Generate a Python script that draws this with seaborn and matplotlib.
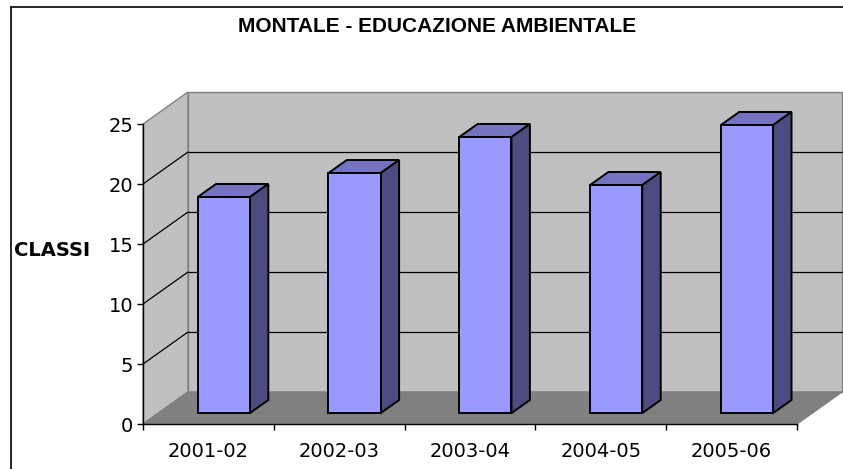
import numpy as np
import matplotlib
matplotlib.use('Agg')
import matplotlib.pyplot as plt
from matplotlib.patches import Polygon
from matplotlib.lines import Line2D
from matplotlib.transforms import IdentityTransform, ScaledTranslation
import seaborn as sns

# data
SEASONS = ['2001-02', '2002-03', '2003-04', '2004-05', '2005-06']
CLASSES = [18, 20, 23, 19, 24]
Y_TICKS = [0, 5, 10, 15, 20, 25]
TITLE = 'MONTALE - EDUCAZIONE AMBIENTALE'
YLABEL = 'CLASSI'

sns.set_theme(style='white')
plt.rcParams.update({
    'font.family': ['DejaVu Sans'],
    'text.color': 'black', 'axes.labelcolor': 'black',
    'xtick.color': 'black', 'ytick.color': 'black',
})

W, H, DPI = 843, 469, 100
DEPTH = np.array([45.0, 32.0])          # px offset front -> back plane
BAR_FRONT, BAR_BACK = 0.34, 0.75        # bar position in depth
WALL, FLOOR, EDGE = '#C0C0C0', '#808080', '#808080'
BAR_FACE, BAR_TOP, BAR_SIDE = '#9999FF', '#7373C0', '#4C4C80'
FS_TICK = 14

fig = plt.figure(figsize=(W / DPI, H / DPI), dpi=DPI)
ax = fig.add_axes([143 / W, 45 / H, 654 / W, 300 / H])
ax.set_facecolor('none')

sns.barplot(x=SEASONS, y=CLASSES, color=BAR_FACE, width=0.4, saturation=1,
            edgecolor='black', linewidth=1.4, ax=ax, zorder=5)
ax.set_xlim(-0.5, len(SEASONS) - 0.5)
ax.set_ylim(0, 25)

x0, x1 = -0.5, len(SEASONS) - 0.5
ident = IdentityTransform()


def proj(x, y, d):
    return ax.transData.transform((x, y)) + d * DEPTH


def face(pts, color, z, ec=EDGE, lw=1.0):
    ax.add_patch(Polygon(pts, closed=True, facecolor=color, edgecolor=ec,
                         linewidth=lw, transform=ident, clip_on=False, zorder=z))


# walls and floor
face([proj(x0, 0, 1), proj(x1, 0, 1), proj(x1, 25, 1), proj(x0, 25, 1)], WALL, 1)
face([proj(x0, 0, 0), proj(x0, 0, 1), proj(x0, 25, 1), proj(x0, 25, 0)], WALL, 1)
face([proj(x0, 0, 0), proj(x1, 0, 0), proj(x1, 0, 1), proj(x0, 0, 1)], FLOOR, 1.5)

# gridlines on back and side wall
for yv in Y_TICKS[1:-1]:
    for (a, b) in [(proj(x0, yv, 1), proj(x1, yv, 1)), (proj(x0, yv, 0), proj(x0, yv, 1))]:
        ax.add_line(Line2D([a[0], b[0]], [a[1], b[1]], color='black', lw=0.9,
                           transform=ident, clip_on=False, zorder=2))

# 3D bars: shift seaborn front faces into the bar plane, add top and side faces
shift = ScaledTranslation(*(BAR_FRONT * DEPTH / DPI), fig.dpi_scale_trans)
for p in ax.patches[:len(SEASONS)]:
    bx, bw, bh = p.get_x(), p.get_width(), p.get_height()
    p.set_transform(ax.transData + shift)
    p.set_clip_on(False)
    face([proj(bx, bh, BAR_FRONT), proj(bx + bw, bh, BAR_FRONT),
          proj(bx + bw, bh, BAR_BACK), proj(bx, bh, BAR_BACK)], BAR_TOP, 4, 'black', 1.4)
    face([proj(bx + bw, 0, BAR_FRONT), proj(bx + bw, 0, BAR_BACK),
          proj(bx + bw, bh, BAR_BACK), proj(bx + bw, bh, BAR_FRONT)], BAR_SIDE, 4, 'black', 1.4)

# axes
for s in ['top', 'right']:
    ax.spines[s].set_visible(False)
for s in ['left', 'bottom']:
    ax.spines[s].set_color('black')
    ax.spines[s].set_linewidth(1.0)
    ax.spines[s].set_zorder(6)
ax.set_yticks(Y_TICKS)
ax.set_xticks(np.arange(-0.5, len(SEASONS)), labels=[''] * (len(SEASONS) + 1))
ax.set_xticks(np.arange(len(SEASONS)), labels=SEASONS, minor=True)
ax.tick_params(axis='y', which='major', direction='out', length=4, width=1,
               color='black', labelsize=FS_TICK, pad=3, left=True)
ax.tick_params(axis='x', which='major', direction='out', length=4, width=1,
               color='black', bottom=True)
ax.tick_params(axis='x', which='minor', length=0, labelsize=FS_TICK, pad=13)
ax.grid(False)
ax.set_xlabel('')
ax.set_ylabel(YLABEL, rotation=0, fontsize=14, fontweight='bold',
              ha='left', va='center')
ax.yaxis.set_label_coords(-129 / 654, (424 - 251) / 300)

fig.text(437 / W, 1 - 26 / H, TITLE, ha='center', va='center',
         fontsize=15, fontweight='bold', family=['Liberation Sans', 'DejaVu Sans'])

# chart frame (cropped at right and bottom)
fig.add_artist(Line2D([10.5 / W, 10.5 / W], [0, 1 - 7 / H], color='black', lw=1.2))
fig.add_artist(Line2D([10.5 / W, 1], [1 - 7 / H, 1 - 7 / H], color='black', lw=1.2))

fig.savefig('out.png', dpi=DPI)
